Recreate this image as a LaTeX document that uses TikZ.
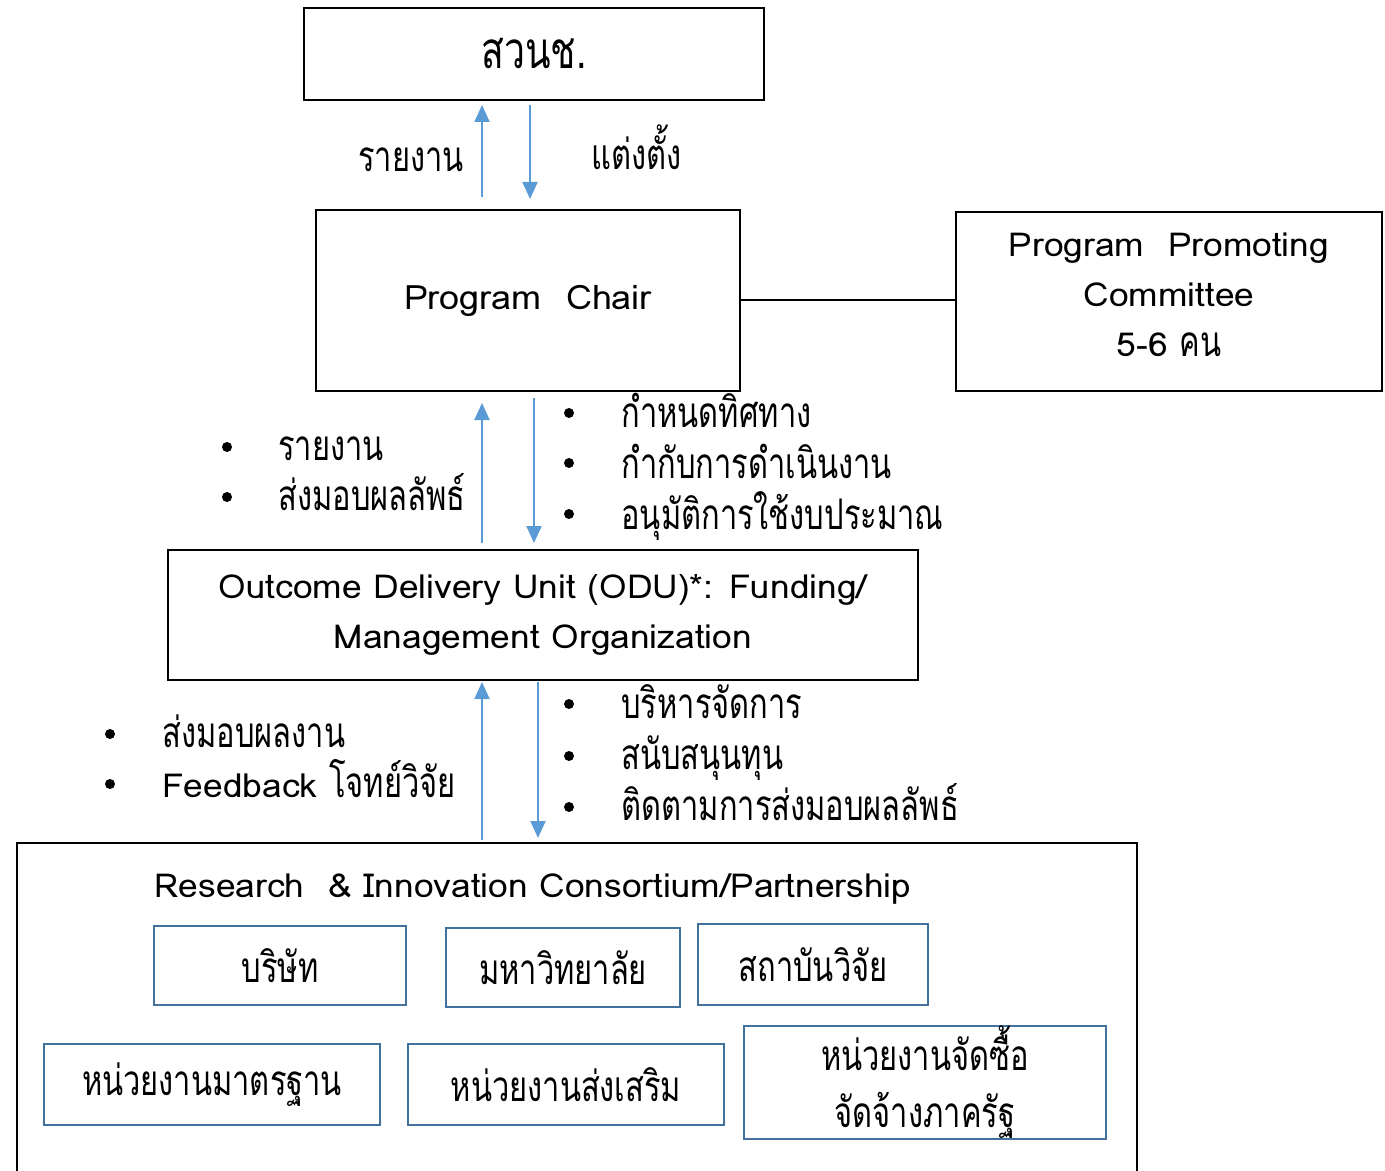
\documentclass[tikz,border=0pt]{standalone}
\usepackage{fontspec}
\setmainfont{Loma}[FakeStretch=1.07]
\newfontfamily\thai[Script=Thai,Scale=1.28,FakeStretch=0.73]{Loma}
\usetikzlibrary{arrows.meta}
\definecolor{arrblue}{HTML}{5B9BD5}
\definecolor{boxblue}{HTML}{41719C}
\begin{document}
\begin{tikzpicture}[x=0.5pt,y=-0.5pt,
  every node/.style={font=\fontsize{16.5}{25}\selectfont, inner sep=0pt},
  blk/.style={draw=black, line width=1pt, align=center},
  bbox/.style={draw=boxblue, line width=1pt, align=center},
  arr/.style={draw=arrblue, line width=1pt, -{Triangle[width=7.5pt,length=8.5pt]}},
  dot/.style={circle, fill=black, minimum size=5pt, inner sep=0pt},
  lbl/.style={anchor=base west},
]
\useasboundingbox (0,0) rectangle (1385,1171);
% main boxes
\node[blk, minimum width=230pt, minimum height=46pt, font=\fontsize{20}{25}\selectfont] (top) at (534,54) {\thai สวนช.};
\node[blk, minimum width=212pt, minimum height=90.5pt, font=\fontsize{16.8}{25}\selectfont] (chair) at (528,300.5) {Program\ \ Chair};
\node[blk, minimum width=213pt, minimum height=89.5pt] (ppc) at (1169,301.5) {};
\node[align=center] (ppctext) at (1169,295) {Program\ \ Promoting\\Committee\\5-6 {\thai คน}};
\node[blk, minimum width=375pt, minimum height=65pt] (odu) at (543,615) {Outcome Delivery Unit (ODU)*: Funding/\\Management Organization};
\node[blk, minimum width=560pt, minimum height=176pt, anchor=north west] (cons) at (16,842) {};
\node[anchor=base] (constitle) at (533,897) {Research\ \ \& Innovation Consortium/Partnership};
% member boxes
\node[bbox, minimum width=126pt, minimum height=39.5pt] (b1) at (280,965.5) {\thai บริษัท};
\node[bbox, minimum width=117pt, minimum height=39.5pt] (b2) at (563,967.5) {\thai มหาวิทยาลัย};
\node[bbox, minimum width=115pt, minimum height=40.5pt] (b3) at (813,964.5) {\thai สถาบันวิจัย};
\node[bbox, minimum width=168pt, minimum height=40.5pt] (b4) at (212,1084.5) {\thai หน่วยงานมาตรฐาน};
\node[bbox, minimum width=158pt, minimum height=40.5pt] (b5) at (566,1084.5) {\thai หน่วยงานส่งเสริม};
\node[bbox, minimum width=181pt, minimum height=56.5pt, font=\fontsize{16.5}{28.5}\selectfont] (b6) at (925,1082.5) {\thai หน่วยงานจัดซื้อ\\\thai จัดจ้างภาครัฐ};
% connector chair - ppc
\draw[line width=1pt] (chair.east) -- (chair.east -| ppc.west);
% arrows top
\coordinate (a1s) at (482,197); \coordinate (a1e) at (482,105);
\coordinate (a2s) at (530,105); \coordinate (a2e) at (530,199);
\draw[arr] (a1s) -- (a1e);
\draw[arr] (a2s) -- (a2e);
\node[anchor=base] (l1) at (411,172) {\thai รายงาน};
\node[anchor=base] (l2) at (637,170) {\thai แต่งตั้ง};
% arrows middle
\coordinate (a3s) at (482,543); \coordinate (a3e) at (482,403);
\coordinate (a4s) at (534,398); \coordinate (a4e) at (534,543);
\draw[arr] (a3s) -- (a3e);
\draw[arr] (a4s) -- (a4e);
\node[dot] (d1) at (227,447) {}; \node[lbl] (t1) at (278,460) {\thai รายงาน};
\node[dot] (d2) at (227,497) {}; \node[lbl] (t2) at (278,510) {\thai ส่งมอบผลลัพธ์};
\node[dot] (d3) at (569,413) {}; \node[lbl] (t3) at (621,427) {\thai กำหนดทิศทาง};
\node[dot] (d4) at (569,463) {}; \node[lbl] (t4) at (621,478) {\thai กำกับการดำเนินงาน};
\node[dot] (d5) at (569,514) {}; \node[lbl] (t5) at (621,529) {\thai อนุมัติการใช้งบประมาณ};
% arrows bottom
\coordinate (a5s) at (482,840); \coordinate (a5e) at (482,682);
\coordinate (a6s) at (538,682); \coordinate (a6e) at (538,838);
\draw[arr] (a5s) -- (a5e);
\draw[arr] (a6s) -- (a6e);
\node[dot] (d6) at (110,734) {}; \node[lbl] (t6) at (162,747) {\thai ส่งมอบผลงาน};
\node[dot] (d7) at (110,784) {}; \node[lbl] (t7) at (162,797) {Feedback {\thai โจทย์วิจัย}};
\node[dot] (d8) at (569,704) {}; \node[lbl] (t8) at (621,718) {\thai บริหารจัดการ};
\node[dot] (d9) at (569,756) {}; \node[lbl] (t9) at (621,769) {\thai สนับสนุนทุน};
\node[dot] (d10) at (569,807) {}; \node[lbl] (t10) at (621,820) {\thai ติดตามการส่งมอบผลลัพธ์};
\end{tikzpicture}
\end{document}
